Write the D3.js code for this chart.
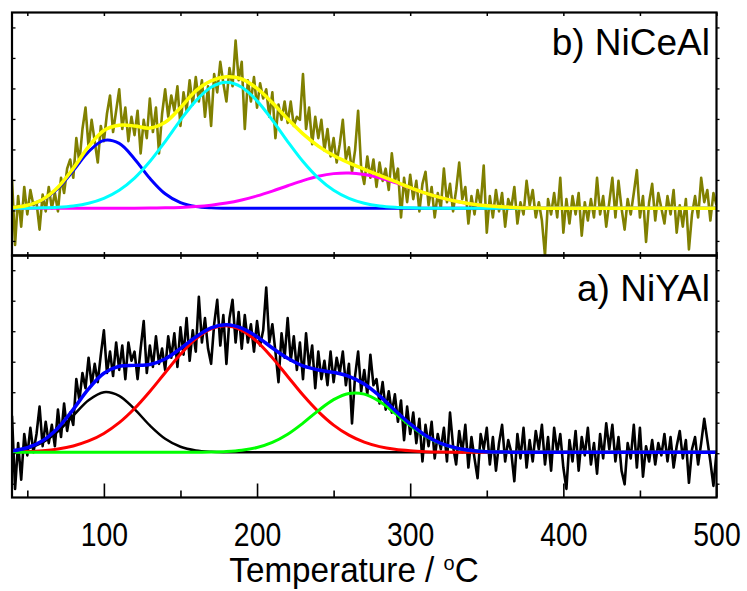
<!DOCTYPE html>
<html><head><meta charset="utf-8">
<script src="https://cdn.jsdelivr.net/npm/d3@7"></script>
<style>
body{margin:0;background:#fff}
svg{display:block}
text{font-family:"Liberation Sans",Arial,Helvetica,sans-serif;fill:#000}
</style>
</head><body>
<svg id="chart" width="747" height="591"></svg>
<script>
// ---------------- data ----------------
const rawStart = 40, rawStep = 2;      // raw TPD signal grid (°C)
const fitStart = 40, fitStep = 10;     // fitted curves grid (°C)
const xDomain = [40, 500];
const xTicksMajor = [100, 200, 300, 400, 500];
const xTicksMinor = [50, 150, 250, 350, 450];
const xTickLabels = ["100", "200", "300", "400", "500"];
const panelLabels = ["b) NiCeAl", "a) NiYAl"];
const yTicksTop = [-1.07, -0.07, 0.93, 1.93, 2.93, 3.93, 4.93, 5.93];
const yTicksBottom = [-1.03, -0.03, 0.97, 1.97, 2.97, 3.97, 4.97, 5.97];

// b) NiCeAl raw signal (a.u.)
const nicealRaw = [
0.95,-1.2,0.4,-0.6,0.7, -0.2,0.6,0.1,0.2,-0.7, 0.45,-0.1,0.7,0.0,0.5, -0.1,1.0,0.5,1.3,1.6,
1.0,2.3,1.5,2.6,3.3, 2.0,2.9,2.2,1.5,2.7, 2.2,3.1,3.7,2.5,3.2, 3.9,2.6,3.3,2.2,3.0,
2.4,3.2,1.8,2.9,2.3, 3.6,2.5,3.3,1.8,3.1, 3.9,3.0,3.7,3.2,4.0, 2.7,3.8,3.2,4.2,3.4,
4.3,3.5,4.2,3.0,4.0, 2.7,4.4,3.8,4.8,4.1, 3.5,4.6,4.0,5.5,4.2, 4.8,2.6,4.2,3.5,4.3,
3.3,4.1,3.6,3.9,3.0, 3.8,2.3,3.4,2.9,3.5, 2.8,3.5,2.7,3.0,2.9, 4.4,2.6,3.3,2.1,3.0,
2.3,2.9,1.9,2.6,1.7, 2.3,1.5,2.1,2.9,1.6, 2.0,1.2,1.9,3.2,1.3, 0.8,1.7,1.0,1.6,0.7,
1.5,0.9,1.3,0.6,1.8, 0.9,1.3,-0.3,1.0,0.2, 1.1,0.3,0.9,-0.1,0.8, 1.2,0.1,0.7,-0.3,0.5,
0.0,1.3,0.2,0.8,-0.1, 0.6,1.5,0.3,0.7,-0.5, 0.4,-0.2,0.6,0.1,1.4, -0.8,0.4,-0.3,0.6,-0.1,
0.5,-0.6,0.3,0.0,0.7, -0.5,0.2,-0.2,0.9,0.1, 0.6,-0.3,0.2,-0.4,-1.55, 0.3,-0.2,0.5,-0.3,1.0,
-0.8,0.3,-0.5,0.4,-0.2, 0.5,-0.9,0.2,-0.4,0.3, -0.3,1.0,-0.2,0.4,-0.6, 0.2,1.0,-0.3,0.9,0.0,
-0.7,0.3,-0.2,0.5,1.25, -0.3,0.4,-1.1,0.2,0.8, -0.4,0.5,0.0,-0.5,0.4, -0.2,0.6,-0.8,0.1,-0.6,
0.3,-1.35,-0.2,0.4,-0.3, 1.0,0.2,0.6,-0.4,0.5, 0.1];

// b) NiCeAl fitted curves
const nicealFit = [0.03,0.10,0.29,0.69,1.31,2.02,2.55,2.72,2.70,2.63,2.82,3.30,3.85,4.18,4.31,4.24,3.93,3.46,2.93,2.44,2.04,1.73,1.49,1.28,1.08,0.88,0.68,0.50,0.35,0.23,0.14,0.08,0.05,0.02,0.01,0,0,0,0,0,0,0,0,0,0,0,0];
const nicealPeak1 = [0.025,0.093,0.277,0.655,1.235,1.856,2.228,2.128,1.620,0.984,0.477,0.184,0.057,0.014,0.003,0,0,0,0,0,0,0,0,0,0,0,0,0,0,0,0,0,0,0,0,0,0,0,0,0,0,0,0,0,0,0,0];
const nicealPeak2 = [0.002,0.005,0.014,0.034,0.078,0.166,0.326,0.591,0.990,1.532,2.189,2.891,3.523,3.969,4.130,3.969,3.523,2.891,2.189,1.532,0.990,0.591,0.326,0.166,0.078,0.034,0.014,0.005,0.002,0,0,0,0,0,0,0,0,0,0,0,0,0,0,0,0,0,0];
const nicealPeak3 = [0,0,0,0,0,0,0,0.001,0.003,0.007,0.015,0.030,0.058,0.103,0.173,0.274,0.406,0.565,0.739,0.908,1.048,1.137,1.159,1.109,0.997,0.842,0.669,0.498,0.349,0.230,0.142,0.082,0.045,0.023,0.011,0.005,0.002,0,0,0,0,0,0,0,0,0,0];

// a) NiYAl raw signal (a.u.)
const niyalRaw = [
1.2,-1.2,0.3,-0.9,0.6, -0.1,0.8,0.0,0.6,1.5, 0.2,1.0,0.3,0.9,0.2, 1.4,0.5,1.6,0.7,1.3,
0.9,2.4,1.7,2.6,2.1, 3.1,2.2,2.9,2.3,3.2, 4.0,2.6,3.3,2.5,3.6, 2.7,3.5,2.4,3.6,3.0,
3.3,2.4,3.4,4.3,2.6, 3.5,2.8,3.8,2.9,3.4, 2.7,3.8,3.1,3.9,2.8, 4.1,3.2,4.4,3.0,4.0,
3.3,5.1,3.6,4.4,3.4, 2.9,4.2,5.0,3.5,4.5, 2.9,4.4,5.0,3.6,4.6, 3.4,4.5,3.6,4.2,3.3,
4.3,3.5,4.0,5.4,3.6, 4.2,3.3,2.3,3.9,3.1, 4.4,3.0,3.8,2.7,3.6, 2.4,3.9,2.8,3.5,2.1,
3.3,2.4,3.0,2.2,3.3, 2.3,3.1,2.6,3.3,2.2, 2.9,0.95,2.5,3.3,2.0, 2.7,1.9,3.2,2.2,2.4,
1.6,2.3,1.4,2.0,1.3, 1.9,1.0,1.7,0.4,1.5, 0.6,1.3,0.3,1.1,-0.3, 0.9,0.2,1.0,-0.2,0.6,
0.1,0.8,-0.3,1.3,0.2, -0.4,0.7,0.0,0.9,-0.5, 0.5,-0.2,-0.85,0.6,0.1, 0.8,-0.4,0.5,-0.6,0.3,
0.9,-0.3,0.4,0.0,-0.95, 0.6,-0.2,0.8,-0.5,0.4, -0.3,0.7,0.1,0.9,-0.4, 0.5,-0.6,0.8,0.0,0.6,
-0.5,-1.2,0.4,-0.3,0.7, -0.6,0.5,-0.1,0.8,-0.4, 0.3,-0.7,0.6,-0.2,0.95, 0.1,0.9,-0.3,0.5,-0.6,
-1.05,0.3,-0.2,0.9,-0.5, 0.8,-0.8,0.2,-0.3,0.4, -0.4,0.3,-0.1,0.6,-0.3, 0.5,-0.5,0.2,0.7,-0.2,
0.4,-1.0,0.1,0.5,-0.4, 0.3,1.1,0.4,-0.3,-1.1, 0.0];

// a) NiYAl fitted curves
const niyalFit = [0.05,0.15,0.38,0.80,1.41,2.08,2.59,2.82,2.85,2.88,3.06,3.40,3.78,4.08,4.18,4.07,3.79,3.42,3.08,2.83,2.70,2.62,2.49,2.24,1.85,1.38,0.93,0.55,0.29,0.14,0.06,0.02,0.01,0,0,0,0,0,0,0,0,0,0,0,0,0,0];
const niyalPeak1 = [0.037,0.121,0.321,0.687,1.201,1.707,1.972,1.853,1.416,0.881,0.446,0.183,0.061,0.017,0.004,0,0,0,0,0,0,0,0,0,0,0,0,0,0,0,0,0,0,0,0,0,0,0,0,0,0,0,0,0,0,0,0];
const niyalPeak2 = [0.012,0.026,0.055,0.111,0.209,0.371,0.619,0.971,1.436,1.996,2.610,3.212,3.718,4.050,4.149,3.999,3.628,3.096,2.487,1.877,1.335,0.892,0.562,0.332,0.185,0.097,0.048,0.022,0.010,0.004,0.002,0,0,0,0,0,0,0,0,0,0,0,0,0,0,0,0];
const niyalPeak3 = [0,0,0,0,0,0,0,0,0,0,0,0,0.002,0.008,0.025,0.067,0.157,0.324,0.592,0.957,1.368,1.728,1.931,1.907,1.666,1.287,0.878,0.530,0.283,0.133,0.056,0.021,0.007,0.002,0,0,0,0,0,0,0,0,0,0,0,0,0];

// ---------------- drawing ----------------
const svg = d3.select("#chart");
const L = 12, R = 716.5;
const x = d3.scaleLinear().domain(xDomain).range([L, R]);
const rawT = nicealRaw.map((d, i) => rawStart + i * rawStep);
const fitT = nicealFit.map((d, i) => fitStart + i * fitStep);

const panels = [
  { top: 12.5, bottom: 255.5, base: 208.3, ticks: yTicksTop, raw: nicealRaw, rawColor: "#808000",
    comps: [[nicealPeak1, "#0000ff", 3], [nicealPeak3, "#ff00ff", 3], [nicealPeak2, "#00ffff", 3]],
    fit: [nicealFit, "#ffff00", 3.5], label: panelLabels[0], labelY: 55 },
  { top: 255.5, bottom: 497.5, base: 452.3, ticks: yTicksBottom, raw: niyalRaw, rawColor: "#000000",
    comps: [[niyalPeak1, "#000000", 2.5], [niyalPeak2, "#ff0000", 3], [niyalPeak3, "#00ff00", 3]],
    fit: [niyalFit, "#0000ff", 3.5], label: panelLabels[1], labelY: 301 }
];
const unit = 30.5;

panels.forEach((p, k) => {
  const y = d3.scaleLinear()
    .domain([(p.base - p.bottom) / unit, (p.base - p.top) / unit])
    .range([p.bottom, p.top]);
  const clipId = "clip" + k;
  svg.append("clipPath").attr("id", clipId)
    .append("rect").attr("x", L).attr("y", p.top).attr("width", R - L).attr("height", p.bottom - p.top);
  const g = svg.append("g").attr("clip-path", `url(#${clipId})`);

  const rawLine = d3.line().x((d, i) => x(rawT[i])).y(d => y(d));
  g.append("path").attr("d", rawLine(p.raw)).attr("fill", "none")
    .attr("stroke", p.rawColor).attr("stroke-width", 2.6).attr("stroke-linejoin", "round");

  const fitLine = d3.line().x((d, i) => x(fitT[i])).y(d => y(d)).curve(d3.curveCatmullRom.alpha(0.5));
  p.comps.concat([p.fit]).forEach(([vals, col, w]) => {
    g.append("path").attr("d", fitLine(vals)).attr("fill", "none")
      .attr("stroke", col).attr("stroke-width", w);
  });

  // y ticks (no labels)
  svg.append("g").attr("transform", `translate(${L},0)`)
    .call(d3.axisLeft(y).tickValues(p.ticks).tickSize(-3.5).tickFormat(""))
    .call(a => a.select(".domain").remove())
    .call(a => a.selectAll("line").attr("stroke-width", 1.3));
  svg.append("g").attr("transform", `translate(${R},0)`)
    .call(d3.axisRight(y).tickValues(p.ticks).tickSize(3).tickFormat(""))
    .call(a => a.select(".domain").remove())
    .call(a => a.selectAll("line").attr("stroke-width", 1.3));

  // short x ticks at top of panel (inward)
  svg.append("g").attr("transform", `translate(0,${p.top})`)
    .call(d3.axisTop(x).tickValues(xTicksMajor.concat(xTicksMinor)).tickSize(-3.5).tickFormat(""))
    .call(a => a.select(".domain").remove())
    .call(a => a.selectAll("line").attr("stroke-width", 1.5));

  // frame
  svg.append("rect").attr("x", L).attr("y", p.top).attr("width", R - L).attr("height", p.bottom - p.top)
    .attr("fill", "none").attr("stroke", "#000").attr("stroke-width", 2.2);

  svg.append("text").attr("x", 710).attr("y", p.labelY).attr("text-anchor", "end")
    .style("font-size", "37px").text(p.label);
});

// short ticks on the upper panel's bottom edge
svg.append("g").attr("transform", `translate(0,255.5)`)
  .call(d3.axisBottom(x).tickValues(xTicksMajor.concat(xTicksMinor)).tickSize(-3.5).tickFormat(""))
  .call(a => a.select(".domain").remove())
  .call(a => a.selectAll("line").attr("stroke-width", 1.5));

// bottom axis
const bottomY = 497.5;
svg.append("g").attr("transform", `translate(0,${bottomY})`)
  .call(d3.axisBottom(x).tickValues(xTicksMinor).tickSize(-7).tickFormat(""))
  .call(a => a.select(".domain").remove())
  .call(a => a.selectAll("line").attr("stroke-width", 1.6));
svg.append("g").attr("transform", `translate(0,${bottomY})`)
  .call(d3.axisBottom(x).tickValues(xTicksMajor).tickSize(-14).tickPadding(25)
    .tickFormat((d, i) => xTickLabels[i]))
  .call(a => a.select(".domain").remove())
  .call(a => a.selectAll("line").attr("stroke-width", 1.6))
  .call(a => a.selectAll("text").style("font-size", "33px")
    .style("font-family", '"Liberation Sans",Arial,sans-serif')
    .attr("transform", "scale(0.86,1)"));

// x title
const title = svg.append("text").attr("transform", "translate(354,582) scale(0.95,1)")
  .attr("text-anchor", "middle").style("font-size", "35px");
title.append("tspan").text("Temperature / ");
title.append("tspan").attr("dy", -12).style("font-size", "21px").text("o");
title.append("tspan").attr("dy", 12).text("C");
</script>
</body></html>
